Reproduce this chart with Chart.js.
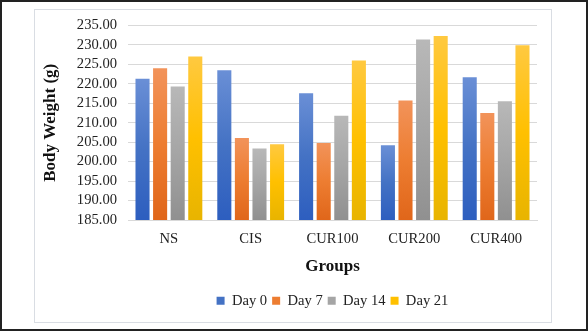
<!DOCTYPE html>
<html>
<head>
<meta charset="utf-8">
<script src="https://cdn.jsdelivr.net/npm/chart.js@4"></script>
<style>
  html, body { margin: 0; padding: 0; background: #fff; }
  #outer { position: relative; width: 588px; height: 331px; box-sizing: border-box; border: 2px solid #222; }
  #inner { position: absolute; left: 32px; top: 7px; width: 518px; height: 314px; box-sizing: border-box; border: 1px solid #d9dde3; }
  #inner canvas { display: block; }
</style>
</head>
<body>
<div id="outer">
  <div id="inner"><canvas id="weightChart" width="516" height="312"></canvas></div>
</div>
<script>
var groups = ['NS', 'CIS', 'CUR100', 'CUR200', 'CUR400'];
var day0 = [221.3, 223.5, 217.6, 204.2, 221.7];
var day7 = [224.0, 206.1, 204.8, 215.7, 212.5];
var day14 = [219.3, 203.4, 211.8, 231.4, 215.5];
var day21 = [227.0, 204.5, 226.0, 232.3, 229.9];
var yMin = 185, yMax = 235, yStep = 5;

// per-bar gradient: light top, base colour, darker base (excel style)
function grad(top, mid, bottom) {
  return function (c) {
    var chart = c.chart;
    var ys = chart.scales && chart.scales.y;
    if (!chart.chartArea || !ys || c.raw == null) return mid;
    var y0 = ys.getPixelForValue(c.raw);
    var y1 = ys.getPixelForValue(yMin);
    if (!isFinite(y0) || !isFinite(y1) || y1 - y0 < 1) return mid;
    var g = chart.ctx.createLinearGradient(0, y0, 0, y1);
    g.addColorStop(0, top);
    g.addColorStop(0.5, mid);
    g.addColorStop(1, bottom);
    return g;
  };
}

var serif = 'Liberation Serif, Times New Roman, serif';

var ctx = document.getElementById('weightChart').getContext('2d');
var myChart = new Chart(ctx, {
  type: 'bar',
  data: {
    labels: groups,
    datasets: [
      { label: 'Day 0', data: day0, backgroundColor: grad('#6a8fd6', '#4472c4', '#2d5ebf'), legendColor: '#4472c4' },
      { label: 'Day 7', data: day7, backgroundColor: grad('#f2935a', '#ed7d31', '#e0661a'), legendColor: '#ed7d31' },
      { label: 'Day 14', data: day14, backgroundColor: grad('#b8b8b8', '#a5a5a5', '#909090'), legendColor: '#a5a5a5' },
      { label: 'Day 21', data: day21, backgroundColor: grad('#ffc940', '#ffc000', '#e8b400'), legendColor: '#ffc000' }
    ]
  },
  options: {
    responsive: false,
    animation: false,
    categoryPercentage: 0.86,
    barPercentage: 0.8,
    layout: { padding: { top: 15.5, right: 14, bottom: 4, left: 0 } },
    scales: {
      x: {
        grid: { display: false, drawTicks: false },
        border: { color: '#d9d9d9' },
        ticks: { color: '#222', font: { family: serif, size: 14.6 }, padding: 10 },
        title: { display: true, text: 'Groups', color: '#111', font: { family: serif, size: 17, weight: 'bold' }, padding: { top: 9, bottom: 12 } },
        afterFit: function (s) { s.height = 68.4; }
      },
      y: {
        min: yMin,
        max: yMax,
        grid: { color: '#d9d9d9', drawTicks: false },
        border: { display: false },
        ticks: {
          stepSize: yStep,
          autoSkip: false,
          color: '#222',
          font: { family: serif, size: 14.6 },
          padding: 11,
          callback: function (v) { return v.toFixed(2); }
        },
        title: { display: true, text: 'Body Weight (g)', color: '#111', font: { family: serif, size: 17, weight: 'bold' }, padding: { top: 5, bottom: 10 } },
        afterFit: function (s) { s.width = 93; s.paddingTop = 8; s.paddingBottom = 8; }
      }
    },
    plugins: {
      legend: {
        position: 'bottom',
        fullSize: false,
        labels: {
          boxWidth: 8,
          boxHeight: 8,
          padding: 5,
          color: '#222',
          font: { family: serif, size: 14.6 },
          generateLabels: function (chart) {
            return chart.data.datasets.map(function (ds, i) {
              return { text: ds.label, fillStyle: ds.legendColor, strokeStyle: ds.legendColor, lineWidth: 0, datasetIndex: i, fontColor: '#222' };
            });
          }
        }
      },
      tooltip: { enabled: false }
    }
  }
});
</script>
</body>
</html>
